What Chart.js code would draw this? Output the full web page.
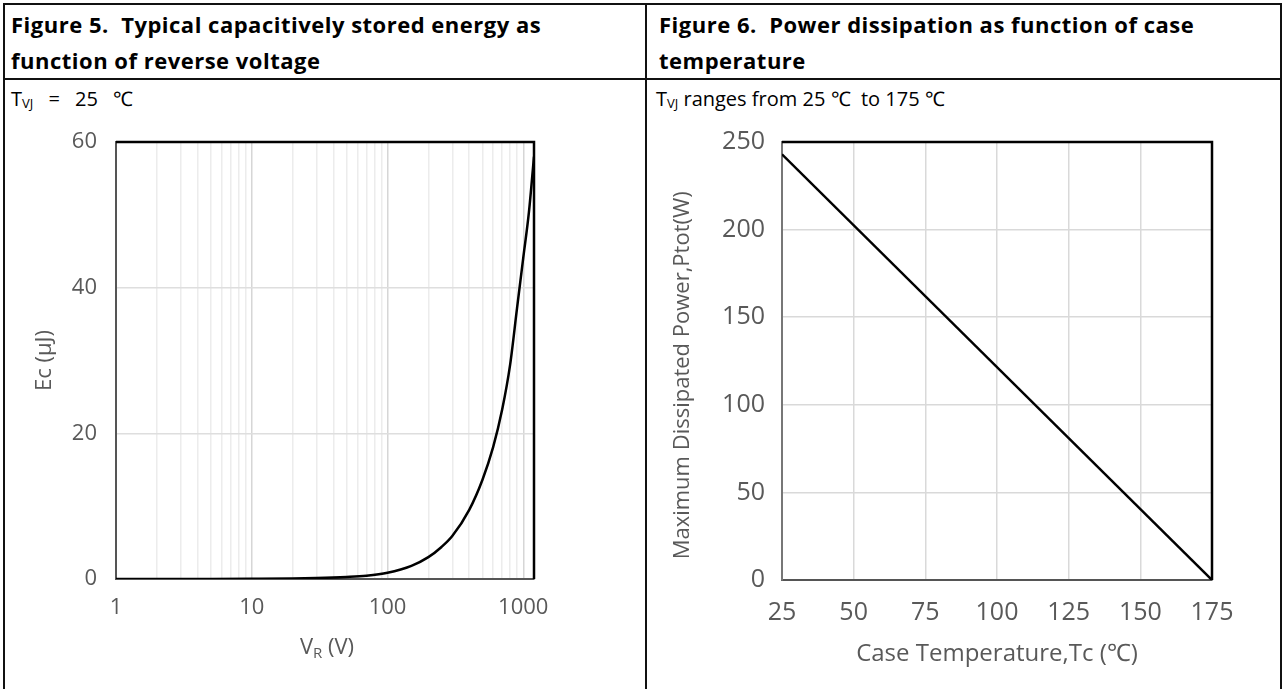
<!DOCTYPE html>
<html>
<head>
<meta charset="utf-8">
<script src="https://cdn.jsdelivr.net/npm/chart.js@4.4.1/dist/chart.umd.min.js"></script>
<style>
  html, body { margin: 0; padding: 0; background: #fff; }
  body { width: 1284px; height: 689px; position: relative; overflow: hidden; font-family: 'Open Sans', sans-serif; color: #000; }
  .ln { position: absolute; background: #111; }
  .title { position: absolute; font-weight: 700; font-size: 22px; letter-spacing: 0.5px; line-height: 36px; white-space: pre; }
  .cond { position: absolute; font-size: 20px; line-height: 26px; white-space: pre; }
  .cond sub { font-size: 13px; vertical-align: -2px; }
  .axt { position: absolute; font-size: 22px; color: #595959; white-space: pre; transform: translate(-50%, -50%); }
  .axt sub { font-size: 15px; vertical-align: -4px; }
  canvas { position: absolute; }
</style>
</head>
<body>
<!-- table frame -->
<div class="ln" style="left:3px;top:3px;width:1279px;height:2px"></div>
<div class="ln" style="left:3px;top:3px;width:2px;height:700px"></div>
<div class="ln" style="left:1280px;top:3px;width:2px;height:700px"></div>
<div class="ln" style="left:645px;top:3px;width:2px;height:700px"></div>
<div class="ln" style="left:3px;top:78px;width:1279px;height:2px"></div>

<div class="title" style="left:11px;top:6px">Figure 5.  Typical capacitively stored energy as
function of reverse voltage</div>
<div class="title" style="left:659px;top:6px">Figure 6.  Power dissipation as function of case
temperature</div>
<div class="cond" style="left:11px;top:86px">T<sub>VJ</sub>&ensp; =&ensp; 25&ensp; ℃</div>
<div class="cond" style="left:656px;top:86px">T<sub>VJ</sub> ranges from 25 ℃  to 175 ℃</div>

<canvas id="ecChart" width="638" height="569" style="left:5px;top:120px"></canvas>
<canvas id="ptotChart" width="632" height="569" style="left:648px;top:120px"></canvas>
<div class="axt" style="left:327px;top:646px">V<sub>R</sub> (V)</div>

<script>
Chart.defaults.font.family = 'Open Sans';
Chart.defaults.color = '#595959';

// Figure 5: stored energy vs reverse voltage
const vrVolts = [1, 5, 10, 20, 30, 50, 70, 100, 150, 200, 250, 300, 400, 500, 600, 700, 800, 900, 1000, 1100, 1200];
const ecMicroJ = [0, 0.01, 0.03, 0.07, 0.13, 0.28, 0.45, 0.85, 1.8, 3.0, 4.4, 5.9, 9.5, 13.6, 18.1, 23.3, 29.4, 37.2, 44.1, 50.3, 58];
const vrGridTicks = [1, 2, 3, 4, 5, 6, 7, 8, 9, 10, 20, 30, 40, 50, 60, 70, 80, 90,
                     100, 200, 300, 400, 500, 600, 700, 800, 900, 1000, 1200];
const vrLabels = [1, 10, 100, 1000];
const ecTicks = [0, 20, 40, 60];

// Figure 6: power derating
const caseTemp = [25, 175];
const ptotWatts = [243, 0];
const tcTicks = [25, 50, 75, 100, 125, 150, 175];
const ptotTicks = [0, 50, 100, 150, 200, 250];

// heavy black top/right edge of the plot box
const boxEdge = {
    id: 'boxEdge',
    afterDatasetsDraw(chart) {
        const { ctx, chartArea: { top, right, bottom, left } } = chart;
        ctx.save();
        ctx.strokeStyle = '#000';
        ctx.lineWidth = 2.5;
        ctx.beginPath();
        ctx.moveTo(left, top);
        ctx.lineTo(right, top);
        ctx.lineTo(right, bottom);
        ctx.stroke();
        ctx.restore();
    }
};

// fixed axis sizes so the plot box lands where the reference has it
function fixX(h) {
    return s => { s.height = h; s.paddingLeft = 0; s.paddingRight = 0; };
}
function fixY(w) {
    return s => { s.width = w; s.paddingTop = 0; s.paddingBottom = 0; };
}

new Chart(document.getElementById('ecChart'), {
    type: 'line',
    data: {
        datasets: [{
            data: vrVolts.map((v, i) => ({ x: v, y: ecMicroJ[i] })),
            borderColor: '#000',
            borderWidth: 2.5,
            pointRadius: 0,
            cubicInterpolationMode: 'monotone',
            fill: false
        }]
    },
    options: {
        responsive: false,
        animation: false,
        layout: { padding: { top: 22, right: 109, left: 0, bottom: 0 } },
        plugins: { legend: { display: false }, tooltip: { enabled: false } },
        scales: {
            x: {
                type: 'logarithmic',
                min: 1,
                max: 1200,
                afterBuildTicks: s => { s.ticks = vrGridTicks.map(v => ({ value: v })); },
                afterFit: fixX(110),
                ticks: {
                    autoSkip: false,
                    maxRotation: 0,
                    padding: 16,
                    font: { size: 22 },
                    callback: v => vrLabels.includes(v) ? String(v) : ''
                },
                grid: {
                    drawTicks: false,
                    color: c => vrLabels.includes(c.tick && c.tick.value) ? '#d6d6d6' : '#ececec',
                    lineWidth: 1.5
                },
                border: { color: '#555', width: 2 }
            },
            y: {
                min: 0,
                max: 60,
                afterBuildTicks: s => { s.ticks = ecTicks.map(v => ({ value: v })); },
                afterFit: fixY(111),
                ticks: { padding: 19, font: { size: 22 } },
                grid: { drawTicks: false, color: '#dedede', lineWidth: 1.5 },
                border: { color: '#555', width: 2 },
                title: { display: true, text: 'Ec (µJ)', font: { size: 22 }, padding: { top: 27 } }
            }
        }
    },
    plugins: [boxEdge]
});

new Chart(document.getElementById('ptotChart'), {
    type: 'line',
    data: {
        datasets: [{
            data: caseTemp.map((t, i) => ({ x: t, y: ptotWatts[i] })),
            borderColor: '#000',
            borderWidth: 2.5,
            pointRadius: 0,
            fill: false
        }]
    },
    options: {
        responsive: false,
        animation: false,
        layout: { padding: { top: 22, right: 68, left: 0, bottom: 0 } },
        plugins: { legend: { display: false }, tooltip: { enabled: false } },
        scales: {
            x: {
                type: 'linear',
                min: 25,
                max: 175,
                afterBuildTicks: s => { s.ticks = tcTicks.map(v => ({ value: v })); },
                afterFit: fixX(109),
                ticks: { padding: 18, font: { size: 25 } },
                grid: { drawTicks: false, color: '#d9d9d9', lineWidth: 1.5 },
                border: { color: '#555', width: 2 },
                title: { display: true, text: 'Case Temperature,Tc (℃)', font: { size: 24 }, padding: { bottom: 20 } }
            },
            y: {
                min: 0,
                max: 250,
                afterBuildTicks: s => { s.ticks = ptotTicks.map(v => ({ value: v })); },
                afterFit: fixY(134),
                ticks: { padding: 17, font: { size: 25 } },
                grid: { drawTicks: false, color: '#d9d9d9', lineWidth: 1.5 },
                border: { color: '#777', width: 2 },
                title: {
                    display: true,
                    // trailing spaces nudge the label down the axis, as in the reference
                    text: 'Maximum Dissipated Power,Ptot(W)\u00a0\u00a0\u00a0\u00a0\u00a0',
                    font: { size: 22 },
                    padding: { top: 22 }
                }
            }
        }
    },
    plugins: [boxEdge]
});
</script>
</body>
</html>
